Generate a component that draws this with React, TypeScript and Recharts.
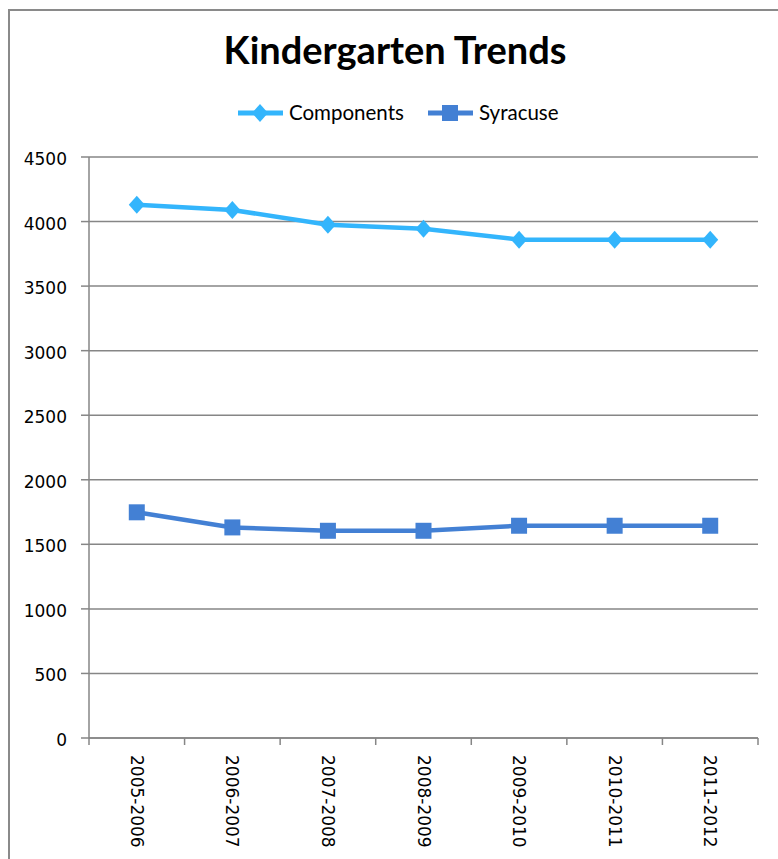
import React from 'react'
import { LineChart, Line, XAxis, YAxis, CartesianGrid } from 'recharts'

// School years on the category axis
const years = [
  '2005-2006',
  '2006-2007',
  '2007-2008',
  '2008-2009',
  '2009-2010',
  '2010-2011',
  '2011-2012',
]

// Enrolment
const components = [4130, 4090, 3975, 3945, 3860, 3860, 3860]
const syracuse = [1748, 1631, 1605, 1605, 1644, 1644, 1644]

const yTicks = [0, 500, 1000, 1500, 2000, 2500, 3000, 3500, 4000, 4500]

const data = years.map((year, i) => ({
  year,
  components: components[i],
  syracuse: syracuse[i],
}))

const COMPONENTS_COLOR = '#33b5fc'
const SYRACUSE_COLOR = '#4380d4'
const AXIS_COLOR = '#868686'

const W = 778
const H = 859
const PLOT_LEFT = 89
const PLOT_RIGHT = 758
const BAND = (PLOT_RIGHT - PLOT_LEFT) / years.length

const Diamond = ({ cx, cy }: any) => (
  <polygon
    points={`${cx},${cy - 9} ${cx + 8},${cy} ${cx},${cy + 9} ${cx - 8},${cy}`}
    fill={COMPONENTS_COLOR}
  />
)

const Square = ({ cx, cy }: any) => (
  <rect x={cx - 8} y={cy - 8} width={16} height={16} fill={SYRACUSE_COLOR} />
)

// tick marks sit between the categories, labels read top to bottom
const YearTick = ({ x, y, payload, index }: any) => (
  <g>
    <line
      x1={x - BAND / 2}
      x2={x - BAND / 2}
      y1={y - 8}
      y2={y - 1}
      stroke={AXIS_COLOR}
      strokeWidth={1.5}
    />
    {index === years.length - 1 && (
      <line
        x1={x + BAND / 2}
        x2={x + BAND / 2}
        y1={y - 8}
        y2={y - 1}
        stroke={AXIS_COLOR}
        strokeWidth={1.5}
      />
    )}
    <text
      transform={`translate(${x},${y + 9}) rotate(90)`}
      dy="0.35em"
      fontFamily="DejaVu Sans"
      fontSize={17}
      fill="#000"
    >
      {payload.value}
    </text>
  </g>
)

const LegendItem = ({ x, label, color, marker }: any) => (
  <g>
    <line x1={x} x2={x + 45} y1={113} y2={113} stroke={color} strokeWidth={5} />
    {marker === 'diamond' ? (
      <polygon
        points={`${x + 22},${104} ${x + 30},${113} ${x + 22},${122} ${x + 14},${113}`}
        fill={color}
      />
    ) : (
      <rect x={x + 14} y={105} width={16} height={16} fill={color} />
    )}
    <text x={x + 51} y={119.5} fontFamily="Lato" fontSize={20.5} fill="#000">
      {label}
    </text>
  </g>
)

export default function App() {
  return (
    <div
      style={{
        position: 'absolute',
        left: 0,
        top: 0,
        width: W,
        height: H,
        overflow: 'hidden',
        background: '#fff',
      }}
    >
      {/* chart frame, cut off on the right and bottom */}
      <div
        style={{
          position: 'absolute',
          left: 8,
          top: 9,
          width: 900,
          height: 1000,
          borderLeft: '2px solid #8a8a8a',
          borderTop: '2px solid #8a8a8a',
        }}
      />
      <svg
        width={W}
        height={160}
        style={{ position: 'absolute', left: 0, top: 0 }}
      >
        <text
          x={395}
          y={64}
          textAnchor="middle"
          fontFamily="Lato"
          fontWeight="bold"
          fontSize={38}
          fill="#000"
        >
          Kindergarten Trends
        </text>
        <LegendItem x={238} label="Components" color={COMPONENTS_COLOR} marker="diamond" />
        <LegendItem x={428} label="Syracuse" color={SYRACUSE_COLOR} marker="square" />
      </svg>
      <div style={{ position: 'absolute', left: 0, top: 0 }}>
        <LineChart
          width={W}
          height={H}
          data={data}
          margin={{ top: 157, right: W - PLOT_RIGHT, left: 0, bottom: 0 }}
        >
          <CartesianGrid
            vertical={false}
            stroke={AXIS_COLOR}
            strokeWidth={1.5}
          />
          <XAxis
            dataKey="year"
            height={121}
            padding={{ left: BAND / 2, right: BAND / 2 }}
            axisLine={{ stroke: AXIS_COLOR, strokeWidth: 1.5 }}
            tickLine={false}
            tickSize={8}
            tickMargin={0}
            interval={0}
            tick={<YearTick />}
          />
          <YAxis
            width={PLOT_LEFT}
            domain={[0, 4500]}
            ticks={yTicks}
            interval={0}
            axisLine={{ stroke: AXIS_COLOR, strokeWidth: 1.5 }}
            tickLine={{ stroke: AXIS_COLOR, strokeWidth: 1.5 }}
            tickSize={8}
            tickMargin={14}
            tick={{ fill: '#000', fontSize: 17, fontFamily: 'DejaVu Sans', dy: 2 }}
          />
          <Line
            dataKey="components"
            stroke={COMPONENTS_COLOR}
            strokeWidth={4.5}
            dot={<Diamond />}
            isAnimationActive={false}
          />
          <Line
            dataKey="syracuse"
            stroke={SYRACUSE_COLOR}
            strokeWidth={4.5}
            dot={<Square />}
            isAnimationActive={false}
          />
        </LineChart>
      </div>
    </div>
  )
}
